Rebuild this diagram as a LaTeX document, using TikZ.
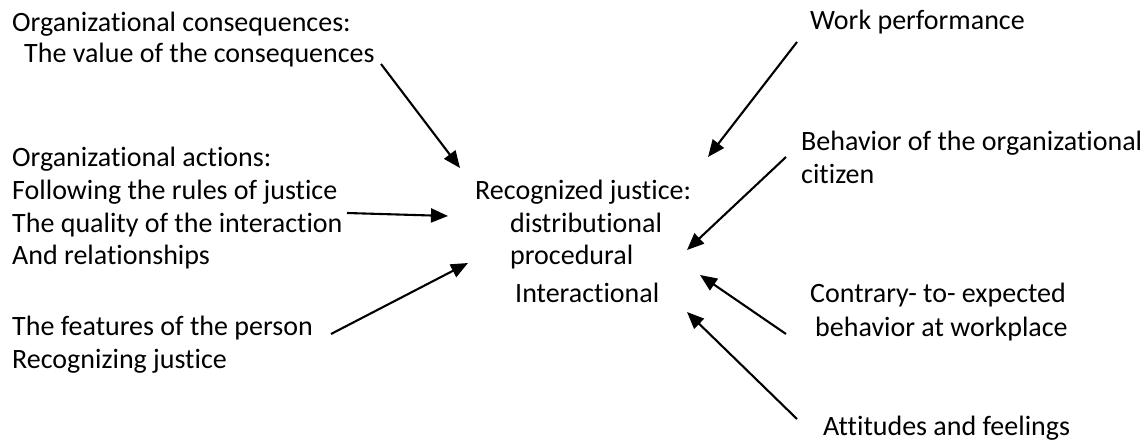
\documentclass[tikz,border=0pt]{standalone}
\usepackage{fontspec}
\setmainfont{Carlito}[Ligatures={NoCommon}]
\usetikzlibrary{arrows.meta}
\begin{document}
\begin{tikzpicture}[x=1pt,y=-1pt,
  txt/.style={anchor=base west,inner sep=0pt,font=\fontsize{28}{33}\selectfont},
  arr/.style={line width=2.1pt,-{Triangle[length=17pt,width=14pt]}}]
\useasboundingbox (0,0) rectangle (1147,443);
% left texts
\node[txt] (oc1) at (12,32) {Organizational consequences:};
\node[txt] (oc2) at (24,63) {The value of the consequences};
\node[txt] (oa1) at (12,167) {Organizational actions:};
\node[txt] (oa2) at (12,200) {Following the rules of justice};
\node[txt] (oa3) at (12,233) {The quality of the interaction};
\node[txt] (oa4) at (12,265) {And relationships};
\node[txt] (fp1) at (12,335) {The features of the person};
\node[txt] (fp2) at (12,368) {Recognizing justice};
% centre
\node[txt] (rj1) at (475,200) {Recognized justice:};
\node[txt] (rj2) at (510,233) {distributional};
\node[txt] (rj3) at (510,265) {procedural};
\node[txt] (rj4) at (515,302) {Interactional};
% right
\node[txt] (wp) at (810,30) {Work performance};
\node[txt] (bo1) at (801,151) {Behavior of the organizational};
\node[txt] (bo2) at (801,184) {citizen};
\node[txt] (cb1) at (810,302) {Contrary- to- expected};
\node[txt] (cb2) at (815,336) {behavior at workplace};
\node[txt] (af) at (823,435) {Attitudes and feelings};
% arrow ends
\coordinate (t1) at (381,64);  \coordinate (h1) at (460,168);
\coordinate (t2) at (347,213); \coordinate (h2) at (448,216);
\coordinate (t3) at (331,334); \coordinate (h3) at (468,263);
\coordinate (t4) at (797,42);  \coordinate (h4) at (708,157);
\coordinate (t5) at (786,157); \coordinate (h5) at (687,250);
\coordinate (t6) at (786,334); \coordinate (h6) at (700,275);
\coordinate (t7) at (797,419); \coordinate (h7) at (687,312);
\foreach \i in {1,...,7} \draw[arr] (t\i) -- (h\i);
\end{tikzpicture}
\end{document}
